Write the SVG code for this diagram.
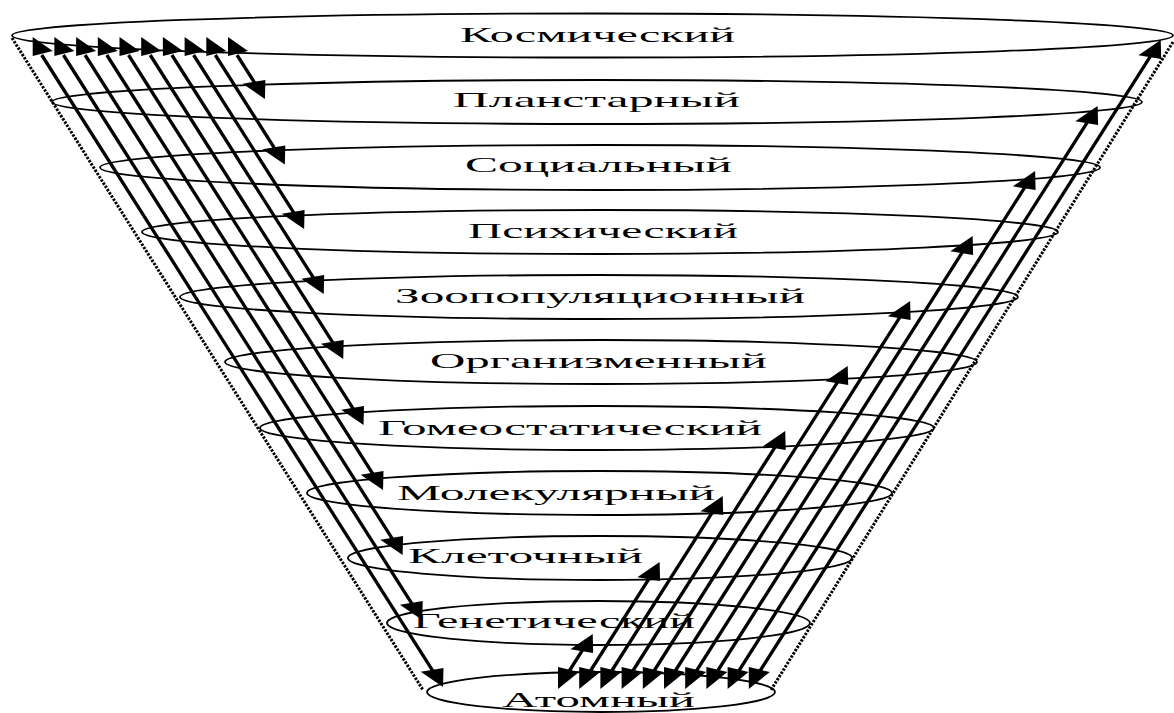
<svg xmlns="http://www.w3.org/2000/svg" width="1174" height="713" viewBox="0 0 1174 713">
<style>
.lvl{fill:none;stroke:#000;stroke-width:1.8}
.lbl{font-family:"Liberation Serif","Times New Roman",serif;font-size:21px;fill:#000}
.arr{stroke:#000;stroke-width:3.3;fill:none}
.dn{marker-end:url(#ahDown)}
.up{marker-end:url(#ahUp)}
.tail{fill:#000}
.cone{stroke:#000;stroke-width:3;stroke-dasharray:2.4 1.4;fill:none}
</style>
<defs>
<marker id="ahDown" markerUnits="userSpaceOnUse" viewBox="-28 -13 32 26" markerWidth="32" markerHeight="26" refX="-6" refY="0" orient="auto" overflow="visible"><path d="M0,0 L-24.9,10.6 L-15.8,-10.6 Z" fill="#000"/></marker>
<marker id="ahUp" markerUnits="userSpaceOnUse" viewBox="-28 -13 32 26" markerWidth="32" markerHeight="26" refX="-6" refY="0" orient="auto" overflow="visible"><path d="M0,0 L-24.9,-10.6 L-15.8,10.6 Z" fill="#000"/></marker>
</defs>
<rect width="1174" height="713" fill="#fff"/>
<g id="level-kosmicheskiy"><ellipse class="lvl" cx="592.5" cy="35.5" rx="580.5" ry="22"/><text class="lbl" x="460" y="42" textLength="275" lengthAdjust="spacingAndGlyphs">Космический</text></g>
<g id="level-planetarny"><ellipse class="lvl" cx="597" cy="102" rx="545" ry="22"/><text class="lbl" x="453" y="107" textLength="287" lengthAdjust="spacingAndGlyphs">Планстарный</text></g>
<g id="level-socialny"><ellipse class="lvl" cx="600" cy="167.5" rx="500" ry="22.5"/><text class="lbl" x="465" y="172" textLength="267" lengthAdjust="spacingAndGlyphs">Социальный</text></g>
<g id="level-psikhicheskiy"><ellipse class="lvl" cx="600" cy="232" rx="458" ry="22"/><text class="lbl" x="468" y="238" textLength="270" lengthAdjust="spacingAndGlyphs">Психический</text></g>
<g id="level-zoopopulyacionny"><ellipse class="lvl" cx="599" cy="297" rx="419" ry="22"/><text class="lbl" x="395" y="303" textLength="410" lengthAdjust="spacingAndGlyphs">Зоопопуляционный</text></g>
<g id="level-organizmenny"><ellipse class="lvl" cx="601" cy="362" rx="376" ry="22"/><text class="lbl" x="430" y="368" textLength="337" lengthAdjust="spacingAndGlyphs">Организменный</text></g>
<g id="level-gomeostaticheskiy"><ellipse class="lvl" cx="597" cy="428" rx="337" ry="22"/><text class="lbl" x="378" y="435" textLength="384" lengthAdjust="spacingAndGlyphs">Гомеостатический</text></g>
<g id="level-molekulyarny"><ellipse class="lvl" cx="599.5" cy="493" rx="292.5" ry="22"/><text class="lbl" x="397" y="500" textLength="318" lengthAdjust="spacingAndGlyphs">Молекулярный</text></g>
<g id="level-kletochny"><ellipse class="lvl" cx="600" cy="558" rx="252" ry="22"/><text class="lbl" x="408" y="563" textLength="235" lengthAdjust="spacingAndGlyphs">Клеточный</text></g>
<g id="level-geneticheskiy"><ellipse class="lvl" cx="598.5" cy="623" rx="211.5" ry="22"/><text class="lbl" x="413" y="628" textLength="282" lengthAdjust="spacingAndGlyphs">Генетический</text></g>
<g id="level-atomny"><ellipse class="lvl" cx="601" cy="692" rx="174" ry="20"/><text class="lbl" x="502" y="707" textLength="193" lengthAdjust="spacingAndGlyphs">Атомный</text></g>
<g id="connectors">
<path class="cone" d="M12,38 L423,690"/>
<path class="cone" d="M1173,42 L771,690"/>
<g id="down-arrows">
<path class="arr dn" d="M237,55 L261.7,93.9"/>
<path class="arr dn" d="M215.3,55 L281.6,159.4"/>
<path class="arr dn" d="M193.6,55 L300.9,223.9"/>
<path class="arr dn" d="M171.9,55 L320.5,288.9"/>
<path class="arr dn" d="M150.2,55 L340,353.9"/>
<path class="arr dn" d="M128.5,55 L360.3,419.9"/>
<path class="arr dn" d="M106.8,55 L379.8,484.9"/>
<path class="arr dn" d="M85.1,55 L399.4,549.9"/>
<path class="arr dn" d="M63.4,55 L419,614.9"/>
<path class="arr dn" d="M41.7,55 L439.8,681.9"/>
<polygon class="tail" points="228,37 248,51 228,56"/>
<polygon class="tail" points="206.3,37 226.3,51 206.3,56"/>
<polygon class="tail" points="184.6,37 204.6,51 184.6,56"/>
<polygon class="tail" points="162.9,37 182.9,51 162.9,56"/>
<polygon class="tail" points="141.2,37 161.2,51 141.2,56"/>
<polygon class="tail" points="119.5,37 139.5,51 119.5,56"/>
<polygon class="tail" points="97.8,37 117.8,51 97.8,56"/>
<polygon class="tail" points="76.1,37 96.1,51 76.1,56"/>
<polygon class="tail" points="54.4,37 74.4,51 54.4,56"/>
<polygon class="tail" points="32.7,37 52.7,51 32.7,56"/>
</g>
<g id="up-arrows">
<path class="arr up" d="M566,676 L589.5,639.1"/>
<path class="arr up" d="M587.2,676 L656.4,567.1"/>
<path class="arr up" d="M608.4,676 L719.5,501.1"/>
<path class="arr up" d="M629.6,676 L782,436.1"/>
<path class="arr up" d="M650.8,676 L844.5,371.1"/>
<path class="arr up" d="M672,676 L906.9,306.1"/>
<path class="arr up" d="M693.2,676 L969.4,241.1"/>
<path class="arr up" d="M714.4,676 L1031.9,176.1"/>
<path class="arr up" d="M735.6,676 L1094.4,111.1"/>
<path class="arr up" d="M756.8,676 L1157.5,45.1"/>
<polygon class="tail" points="558,667 579,672 558,689"/>
<polygon class="tail" points="579.2,667 600.2,672 579.2,689"/>
<polygon class="tail" points="600.4,667 621.4,672 600.4,689"/>
<polygon class="tail" points="621.6,667 642.6,672 621.6,689"/>
<polygon class="tail" points="642.8,667 663.8,672 642.8,689"/>
<polygon class="tail" points="664,667 685,672 664,689"/>
<polygon class="tail" points="685.2,667 706.2,672 685.2,689"/>
<polygon class="tail" points="706.4,667 727.4,672 706.4,689"/>
<polygon class="tail" points="727.6,667 748.6,672 727.6,689"/>
<polygon class="tail" points="748.8,667 769.8,672 748.8,689"/>
</g>
</g>
</svg>
